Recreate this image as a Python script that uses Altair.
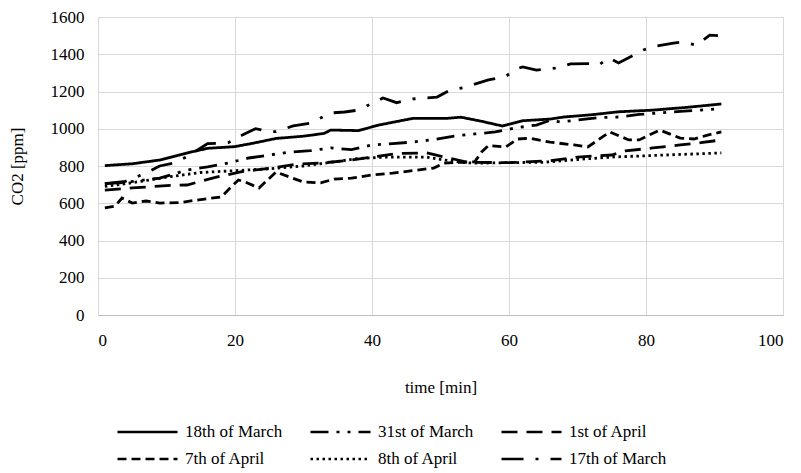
import altair as alt
import pandas as pd

series_names = ["18th of March", "31st of March", "1st of April",
                "7th of April", "8th of April", "17th of March"]

t_18mar = [1, 5, 9, 13, 16, 20, 23, 26, 30, 33, 34, 38, 41, 46, 51, 53, 56, 59, 62, 66, 68, 72, 76, 81, 86, 91]
v_18mar = [802, 812, 832, 870, 895, 904, 925, 948, 960, 975, 993, 990, 1020, 1056, 1056, 1062, 1040, 1015, 1043, 1052, 1063, 1075, 1091, 1100, 1115, 1133]

t_31mar = [1, 4, 9, 13, 16, 19, 22, 24, 26, 28, 31, 34, 37, 40, 43, 46, 49, 52, 55, 58, 61, 64, 66, 67.5, 70, 73, 76, 79, 82, 85, 88, 91]
v_31mar = [705, 712, 735, 778, 795, 816, 843, 853, 864, 875, 882, 897, 888, 913, 920, 929, 942, 961, 972, 983, 1005, 1020, 1045, 1036, 1047, 1060, 1063, 1077, 1085, 1093, 1100, 1108]

t_1apr = [1, 5, 10, 13, 17, 21, 25, 29, 33, 37, 40, 44, 48, 51, 54, 60, 66, 70, 75, 77, 81, 85, 88, 91]
v_1apr = [670, 682, 695, 698, 738, 770, 787, 810, 817, 832, 848, 868, 870, 845, 820, 818, 828, 848, 859, 881, 897, 913, 925, 940]

t_7apr = [1, 2.5, 3.5, 5, 7, 9, 12, 15, 18, 19.5, 20.5, 21.5, 23.5, 26, 28, 30, 32.5, 34.5, 37, 40, 43, 46, 49, 50.5, 53, 55, 56, 57, 59.5, 61.3, 63, 66, 69.5, 71.5, 74.7, 77.5, 79, 82, 85, 87, 89, 91]
v_7apr = [575, 585, 628, 601, 612, 601, 604, 620, 634, 690, 725, 714, 682, 768, 740, 714, 709, 730, 735, 752, 762, 775, 789, 815, 820, 822, 875, 910, 902, 945, 950, 928, 913, 902, 983, 940, 940, 993, 950, 945, 966, 983]

t_8apr = [1, 5, 10, 15, 20, 25, 30, 35, 38, 42, 48, 50, 53, 55, 60, 65, 70, 75, 80, 85, 91]
v_8apr = [690, 710, 740, 765, 775, 785, 800, 825, 840, 848, 848, 835, 820, 815, 818, 820, 835, 848, 855, 862, 870]

t_17mar = [1, 4, 7, 9, 11, 13, 16, 19, 21, 23, 25, 26, 28.5, 31, 34, 36, 38, 41.6, 43.6, 46, 49.5, 51.4, 53.3, 57, 59.4, 61, 62, 64, 67, 69, 72, 73, 74.6, 76, 79.6, 81.6, 84, 85.4, 87.4, 89.3, 90.5]
v_17mar = [705, 718, 762, 800, 815, 850, 920, 925, 965, 1000, 985, 985, 1015, 1030, 1085, 1090, 1100, 1165, 1140, 1160, 1170, 1208, 1220, 1262, 1278, 1320, 1332, 1315, 1326, 1348, 1350, 1340, 1380, 1353, 1423, 1445, 1460, 1466, 1448, 1503, 1500]

all_t = [t_18mar, t_31mar, t_1apr, t_7apr, t_8apr, t_17mar]
all_v = [v_18mar, v_31mar, v_1apr, v_7apr, v_8apr, v_17mar]

rows = []
for name, ts, vs in zip(series_names, all_t, all_v):
    for i, (t, v) in enumerate(zip(ts, vs)):
        rows.append({"series": name, "time": t, "co2": v, "order": i})
df = pd.DataFrame(rows)

dashes = [[1, 0], [18, 8, 3, 8, 3, 8], [16, 9], [9, 5], [2.5, 3.5], [22, 12, 3, 12]]

font = "Liberation Serif"

chart = alt.Chart(df).mark_line(strokeWidth=2.8, color="black", strokeCap="butt").encode(
    x=alt.X("time:Q", scale=alt.Scale(domain=[0, 100], nice=False),
            axis=alt.Axis(title="time [min]", values=[0, 20, 40, 60, 80, 100],
                          grid=True, gridColor="#d9d9d9", ticks=False, format="d",
                          domainColor="#bfbfbf", labelFont=font, labelFontSize=17,
                          labelColor="black", labelPadding=17, titleFont=font,
                          titleFontSize=17, titleFontWeight="normal", titleColor="black",
                          titlePadding=31)),
    y=alt.Y("co2:Q", scale=alt.Scale(domain=[0, 1600], nice=False),
            axis=alt.Axis(title="CO2 [ppm]", values=list(range(0, 1601, 200)),
                          grid=True, gridColor="#d9d9d9", ticks=False, format="d",
                          domainColor="#d9d9d9", labelFont=font, labelFontSize=17,
                          labelColor="black", labelPadding=14, titleFont=font,
                          titleFontSize=17, titleFontWeight="normal", titleColor="black",
                          titlePadding=24)),
    strokeDash=alt.StrokeDash("series:N",
                              scale=alt.Scale(domain=series_names, range=dashes),
                              legend=alt.Legend(title=None, orient="none", legendX=18,
                                                legendY=406, columns=3, direction="horizontal",
                                                symbolType="stroke", symbolSize=3600,
                                                symbolStrokeWidth=2.6, symbolStrokeColor="black",
                                                labelFont=font, labelFontSize=17,
                                                labelColor="black", columnPadding=26,
                                                rowPadding=9, labelOffset=6, clipHeight=18,
                                                gridAlign="each")),
    detail="series:N",
    order="order:Q",
).properties(
    width=685, height=298,
    padding={"left": 90, "top": 9, "right": 10, "bottom": 153},
    autosize=alt.AutoSizeParams(type="none"),
).configure_view(stroke="#d9d9d9", strokeWidth=1)

chart.save("out.html", embed_options={"renderer": "svg", "actions": False})
